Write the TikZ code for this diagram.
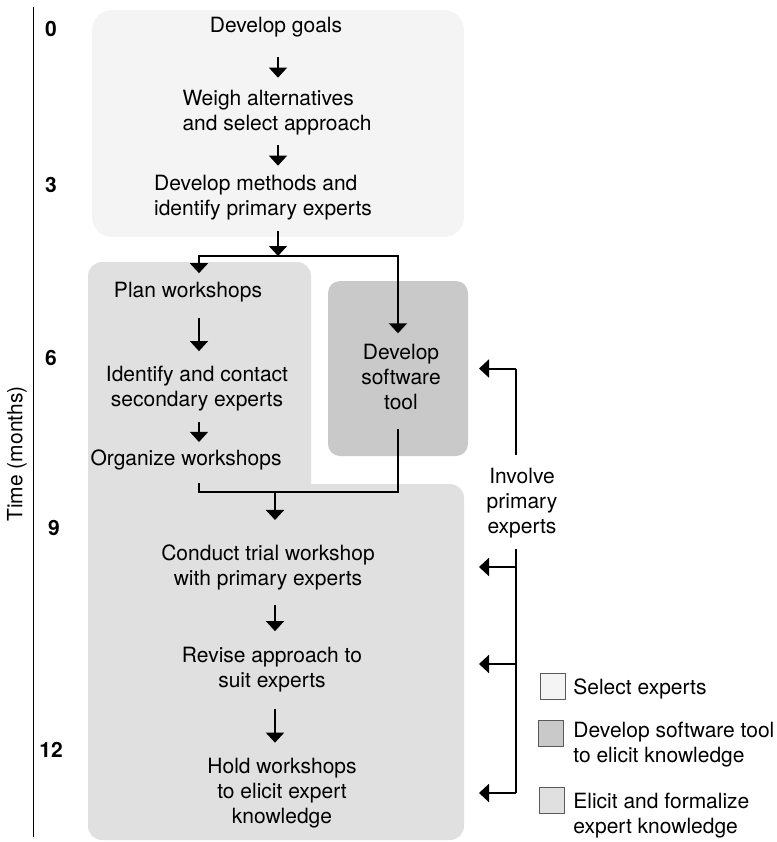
\documentclass[tikz,border=0pt]{standalone}
\usepackage{fontspec}
\setmainfont{TeX Gyre Heros}
\usetikzlibrary{arrows.meta}

\begin{document}
\begin{tikzpicture}[x=0.5pt, y=-0.5pt,
  txt/.style={inner sep=0pt, font=\fontsize{10.5}{12.5}\selectfont, align=center},
  num/.style={inner sep=0pt, font=\fontsize{10.5}{12.5}\selectfont\bfseries},
  thin/.style={line width=0.6pt},
  link/.style={line width=1pt},
  arr/.style={-{Triangle[width=9pt,length=5pt]}},
  key/.style={draw=black!65, line width=0.5pt, minimum width=12.5pt, minimum height=13pt, inner sep=0pt}]

\useasboundingbox (0,0) rectangle (777,842);

% time axis
\draw[line width=0.5pt] (33,7) -- (33,837);
\node[txt, rotate=90] (time) at (17,454) {Time (months)};
\node[num] (m0) at (51,29) {0};
\node[num] (m3) at (51,185) {3};
\node[num] (m6) at (51,358) {6};
\node[num] (m9) at (54,528) {9};
\node[num] (m12) at (51,750) {12};

% panels
\fill[black!4.5, rounded corners=10pt] (92,10) rectangle (464,237);
\fill[black!12, rounded corners=7pt] (88,262) rectangle (311,600);
\fill[black!12, rounded corners=7pt] (88,484) rectangle (464,840);
\node[fill=black!21, rounded corners=6pt, minimum width=70pt, minimum height=87.5pt] (toolbox) at (398,368.5) {};

% steps
\node[txt] (goals) at (276,27) {Develop goals};
\node[txt, align=left] (weigh) at (277,112.5) {Weigh alternatives\\and select approach};
\node[txt, align=left] (methods) at (263,197.5) {Develop methods and\\identify primary experts};
\node[txt] (plan) at (188,292.5) {Plan workshops};
\node[txt] (identify) at (197,389) {Identify and contact\\secondary experts};
\node[txt] (organize) at (186,459.5) {Organize workshops};
\node[txt] (tool) at (401,376.5) {Develop\\software\\tool};
\node[txt] (conduct) at (268,567) {Conduct trial workshop\\with primary experts};
\node[txt] (revise) at (272,670) {Revise approach to\\suit experts};
\node[txt] (hold) at (282,793) {Hold workshops\\to elicit expert\\knowledge};
\node[txt] (invol) at (522,503) {Involve\\primary\\experts};

\coordinate (colA) at (278,0);
\coordinate (colB) at (199,0);
\coordinate (split) at (278,256);
\coordinate (merge) at (275,492);
\coordinate (fbline) at (516,0);
\coordinate (tipcol) at (479,0);

% flow
\draw[thin, arr, shorten <=10pt, shorten >=6pt] (goals.south -| colA) -- (weigh.north -| colA);
\draw[thin, arr, shorten <=5pt, shorten >=4.5pt] (weigh.south -| colA) -- (methods.north -| colA);
\draw[thin, arr, shorten <=5.5pt] (methods.south -| colA) -- (split);
\draw[link, arr, shorten >=4.5pt] (split) -| (plan.north -| colB);
\draw[link, arr, shorten >=5pt] (split) -| (tool.north -| toolbox);
\draw[thin, arr, shorten <=7.5pt, shorten >=7.5pt] (plan.south -| colB) -- (identify.north -| colB);
\draw[thin, arr, shorten <=5pt, shorten >=3.5pt] (identify.south -| colB) -- (organize.north -| colB);
\draw[link, shorten <=6.5pt, shorten >=9.5pt] (organize.south -| colB) |- (merge) -| (tool.south -| toolbox);
\draw[link, arr, shorten >=12pt] (merge) -- (merge |- conduct.north);
\draw[thin, arr, shorten <=7.5pt, shorten >=8pt] (conduct.south -| merge) -- (revise.north -| merge);
\draw[link, arr, shorten <=8pt, shorten >=7.5pt] (revise.south -| merge) -- (hold.north -| merge);

% feedback from primary experts
\draw[link, shorten <=6.5pt] (invol.north -| fbline) -- (fbline |- toolbox);
\draw[link, arr] (fbline |- toolbox) -- (tipcol |- toolbox);
\draw[link, shorten <=5.5pt] (invol.south -| fbline) -- (fbline |- hold);
\foreach \n/\dy in {conduct/0pt, revise/3pt, hold/0pt}
  \draw[link, arr] ([yshift=\dy]fbline |- \n) -- ([yshift=\dy]tipcol |- \n);

% legend
\node[key, fill=black!4.5] (k1) at (552.5,686) {};
\node[txt, anchor=west, align=left] (l1) at (573,689) {Select experts};
\node[key, fill=black!21] (k2) at (551,733) {};
\node[txt, anchor=west, align=left] (l2) at (573,745) {Develop software tool\\to elicit knowledge};
\node[key, fill=black!12] (k3) at (552,800.5) {};
\node[txt, anchor=west, align=left] (l3) at (573,815.5) {Elicit and formalize\\expert knowledge};
\end{tikzpicture}
\end{document}
